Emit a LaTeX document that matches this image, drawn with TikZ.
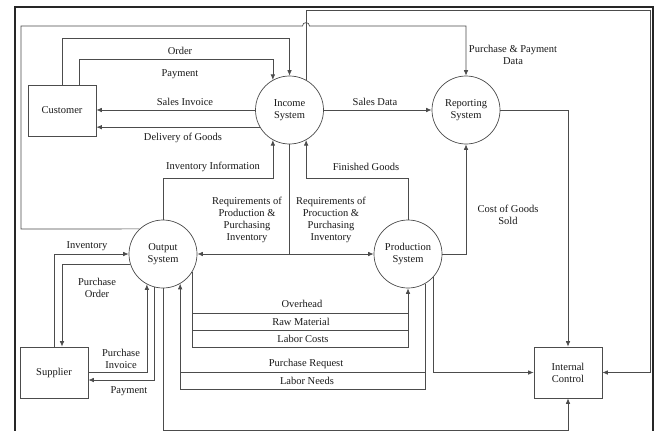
\documentclass[tikz,border=0pt]{standalone}
\usepackage{fontspec}
\setmainfont{Liberation Serif}
\usetikzlibrary{arrows.meta}
\begin{document}
\begin{tikzpicture}[x=1pt,y=-1pt,
  every node/.style={font=\fontsize{10.5}{12}\selectfont, text=black!90, inner sep=0pt},
  ln/.style={draw=black!70, line width=0.7pt},
  arr/.style={ln, -{Latex[length=5.5pt,width=4.5pt]}},
  proc/.style={circle, draw=black!70, line width=0.7pt, minimum size=68pt, align=center},
  ent/.style={rectangle, draw=black!70, line width=0.7pt, minimum width=68pt, minimum height=51pt, align=center},
  lbl/.style={align=center}
]
\useasboundingbox (0,0) rectangle (656,431);
\fill[white] (0,0) rectangle (656,431);
% frame
\draw[line width=2pt, black!85] (15,432) -- (15,7) -- (653,7) -- (653,432);

% nodes
\node[ent]  (cust) at (62,110.5) {Customer};
\node[ent]  (sup)  at (54,372.5) {Supplier};
\node[ent]  (ic)   at (568,372.5) {Internal\\Control};
\node[proc] (inc)  at (289.5,110) {Income\\System};
\node[proc] (rep)  at (466,110) {Reporting\\System};
\node[proc] (out)  at (163,254) {Output\\System};
\node[proc] (prod) at (408,254) {Production\\System};

% customer <-> income
\draw[arr] (cust.north) -- (cust.north |- 0,38) -| (inc.north);
\draw[arr] ([xshift=17pt]cust.north) -- ++(0,-25) -| (inc.119);
\draw[arr] (inc.west) -- (inc.west -| cust.east);
\draw[arr] (inc.210) -- (inc.210 -| cust.east);
% income -> reporting
\draw[arr] (inc.east) -- (rep.west);
% output -> reporting (with line hop)
\draw[arr] (out.133) -- (21,229) -- (21,26) -- (302.5,26)
  .. controls (302.5,21.5) and (309.5,21.5) .. (309.5,26)
  -- (rep.north |- 0,26) -- (rep.north);
% income -> internal control
\draw[arr] (inc.61) -- (inc.61 |- 0,10) -- (650,10) |- (ic.east);
% reporting -> internal control
\draw[arr] (rep.east) -| (ic.north);
% production -> reporting
\draw[arr] (prod.east) -| (rep.south);
% production -> income
\draw[arr] (prod.north) -- (prod.north |- 0,178) -| (inc.299);
% output -> income
\draw[arr] (out.north) -- (out.north |- 0,178) -| (inc.241);
% income -> output / production
\coordinate (rj) at (inc.south |- out.east);
\draw[arr] (inc.south) -- (rj) -- (out.east);
\draw[arr] (rj) -- (prod.west);
% supplier <-> output
\draw[arr] (sup.north) |- (out.west);
\draw[arr] (out.197) -| ([xshift=8pt]sup.north);
\draw[arr] (sup.east) -| (out.242);
\draw[arr] (out.256) |- ([yshift=-7.5pt]sup.east);
% output -> internal control
\draw[arr] (out.south) -- (out.south |- 0,430) -| (ic.south);
% output -> production (overhead, raw material, labor costs)
\draw[arr] (out.328) -- (out.328 |- 0,347) -| (prod.south);
\draw[ln] (out.328 |- 0,313) -- (prod.south |- 0,313);
\draw[ln] (out.328 |- 0,330) -- (prod.south |- 0,330);
% production -> output (purchase request, labor needs)
\draw[arr] (prod.300) -- (prod.300 |- 0,389) -| (out.300);
\draw[ln] (out.300 |- 0,372) -- (prod.300 |- 0,372);
% production -> internal control
\draw[arr] (prod.317) |- (ic.west);

% labels
\node[lbl] (lOrder) at (180,51) {Order};
\node[lbl] (lPay1) at (180,74) {Payment};
\node[lbl] (lSI) at (185,102) {Sales Invoice};
\node[lbl] (lDG) at (183,138) {Delivery of Goods};
\node[lbl] (lSD) at (375,102) {Sales Data};
\node[lbl] (lII) at (213,167) {Inventory Information};
\node[lbl] (lFG) at (366,167) {Finished Goods};
\node[lbl] (lReq1) at (247,220) {Requirements of\\Production \&\\Purchasing\\Inventory};
\node[lbl] (lReq2) at (331,220) {Requirements of\\Procuction \&\\Purchasing\\Inventory};
\node[lbl] (lPPD) at (513,54.5) {Purchase \& Payment\\Data};
\node[lbl] (lCGS) at (508,215) {Cost of Goods\\Sold};
\node[lbl] (lInv) at (87,246) {Inventory};
\node[lbl] (lPO) at (97,288) {Purchase\\Order};
\node[lbl] (lPI) at (121,358.5) {Purchase\\Invoice};
\node[lbl] (lPay2) at (129,391) {Payment};
\node[lbl] (lOH) at (302,304) {Overhead};
\node[lbl] (lRM) at (301,322) {Raw Material};
\node[lbl] (lLC) at (303,339) {Labor Costs};
\node[lbl] (lPR) at (306,364) {Purchase Request};
\node[lbl] (lLN) at (307,381) {Labor Needs};
\end{tikzpicture}
\end{document}
